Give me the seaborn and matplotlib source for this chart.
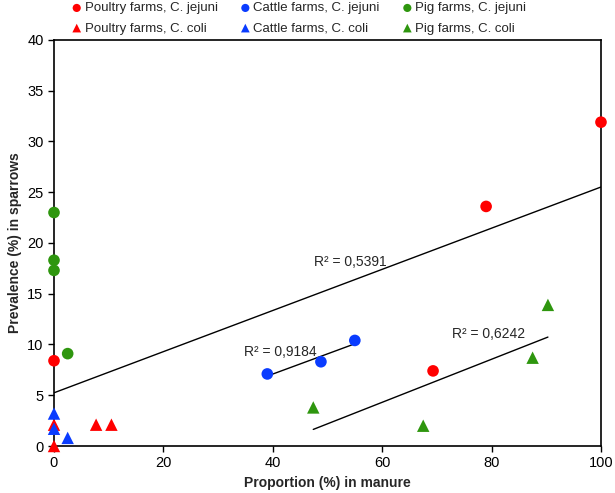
import pandas as pd
import matplotlib
matplotlib.use("Agg")
import matplotlib.pyplot as plt
import seaborn as sns

sns.set_style("ticks")
plt.rcParams['font.family'] = ['Liberation Sans', 'DejaVu Sans']

# Dados
poultry_jej_x = [0, 69.3, 79.0, 100]
poultry_jej_y = [8.4, 7.4, 23.6, 31.9]
cattle_jej_x = [39.0, 48.8, 55.0]
cattle_jej_y = [7.1, 8.3, 10.4]
pig_jej_x = [0, 0, 0, 2.5]
pig_jej_y = [23.0, 18.3, 17.3, 9.1]

poultry_coli_x = [0, 0, 7.7, 10.5]
poultry_coli_y = [0.0, 2.1, 2.1, 2.1]
cattle_coli_x = [0, 0, 2.5]
cattle_coli_y = [3.2, 1.7, 0.8]
pig_coli_x = [47.4, 67.5, 87.5, 90.3]
pig_coli_y = [3.8, 2.0, 8.7, 13.9]

r2_labels = ['R² = 0,5391', 'R² = 0,9184', 'R² = 0,6242']

red = '#ff0000'
blue = '#0a3cff'
green = '#2e960e'

series = [
    ('Poultry farms, C. jejuni', poultry_jej_x, poultry_jej_y, red, 'o'),
    ('Poultry farms, C. coli', poultry_coli_x, poultry_coli_y, red, '^'),
    ('Cattle farms, C. jejuni', cattle_jej_x, cattle_jej_y, blue, 'o'),
    ('Cattle farms, C. coli', cattle_coli_x, cattle_coli_y, blue, '^'),
    ('Pig farms, C. jejuni', pig_jej_x, pig_jej_y, green, 'o'),
    ('Pig farms, C. coli', pig_coli_x, pig_coli_y, green, '^'),
]

fig = plt.figure(figsize=(6.15, 4.93), dpi=100)
ax = fig.add_axes([0.0878, 0.0953, 0.8894, 0.8237])

# Linhas de tendência
for xs, ys in [(poultry_jej_x, poultry_jej_y),
               (cattle_jej_x, cattle_jej_y),
               (pig_coli_x, pig_coli_y)]:
    sns.regplot(x=xs, y=ys, ax=ax, scatter=False, ci=None, truncate=True,
                line_kws=dict(color='black', lw=1))

for label, xs, ys, c, m in series:
    size = 70 if m == 'o' else 80
    sns.scatterplot(x=xs, y=ys, ax=ax, color=c, marker=m, s=size,
                    edgecolor='none', label=label, clip_on=False, zorder=3)

# Rótulos R²
ax.text(47.5, 18.1, r2_labels[0], fontsize=10, va='center')
ax.text(34.7, 9.3, r2_labels[1], fontsize=10, va='center')
ax.text(72.8, 11.0, r2_labels[2], fontsize=10, va='center')

ax.set_xlim(0, 100)
ax.set_ylim(0, 40)
ax.set_xticks(range(0, 101, 20))
ax.set_yticks(range(0, 41, 5))
ax.tick_params(labelsize=10.5, length=4, width=1, colors='black')
for sp in ax.spines.values():
    sp.set_color('black')
    sp.set_linewidth(1.2)

ax.set_xlabel('Proportion (%) in manure', fontsize=10, fontweight='bold')
ax.set_ylabel('Prevalence (%) in sparrows', fontsize=10, fontweight='bold')

ax.legend(ncol=3, loc='lower left', bbox_to_anchor=(0.015, 0.997), frameon=False,
          fontsize=9.5, handletextpad=0.0, columnspacing=1.5, labelspacing=0.6,
          handlelength=1.2, markerscale=0.7, borderaxespad=0.1)

plt.savefig("out.png", dpi=100)
